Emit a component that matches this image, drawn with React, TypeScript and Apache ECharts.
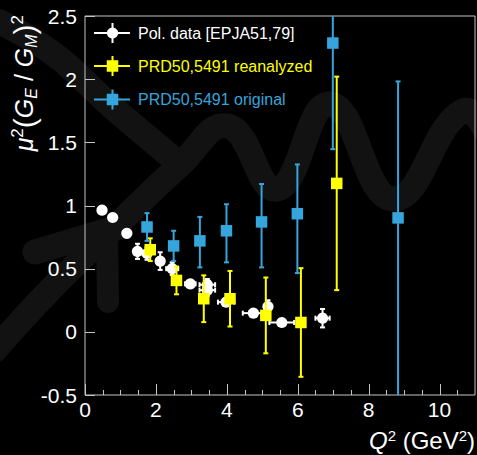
import React, { useEffect, useRef } from "react";
import * as echarts from "echarts";

// ---------- data ----------
const polQ2 = [0.48, 0.78, 1.18, 1.48, 1.75, 2.12, 2.46, 2.97, 3.45, 3.45, 3.98, 4.75, 5.16, 5.55, 6.7];
const polRatio = [0.963, 0.905, 0.78, 0.637, 0.62, 0.56, 0.5, 0.38, 0.373, 0.33, 0.235, 0.148, 0.2, 0.074, 0.108];
const polQ2Err = [0, 0, 0, 0.04, 0.05, 0.08, 0.17, 0.15, 0.22, 0.22, 0.23, 0.3, 0.05, 0.35, 0.2];
const polRatioErr = [0.01, 0.01, 0.01, 0.06, 0.05, 0.07, 0.05, 0.03, 0.045, 0.045, 0.03, 0.015, 0.05, 0.015, 0.073];

const reanQ2 = [1.84, 2.58, 3.35, 4.09, 5.1, 6.09, 7.1];
const reanRatio = [0.65, 0.407, 0.262, 0.262, 0.13, 0.074, 1.175];
const reanErr = [0.09, 0.11, 0.185, 0.22, 0.3, 0.43, 0.845];

const origQ2 = [1.75, 2.5, 3.24, 3.99, 4.98, 5.99, 6.99, 8.83];
const origRatio = [0.83, 0.68, 0.72, 0.8, 0.87, 0.935, 2.286, 0.902];
const origErrLow = [0.11, 0.12, 0.21, 0.25, 0.36, 0.47, 0.84, 1.6];
const origErrHigh = [0.11, 0.12, 0.19, 0.21, 0.3, 0.39, 0.84, 1.08];

const seriesNames = ["Pol. data [EPJA51,79]", "PRD50,5491 reanalyzed", "PRD50,5491 original"];
const seriesColors = ["#ffffff", "#ffff00", "#36a5dc"];
const seriesSymbols = ["circle", "square", "square"];

// tick positions (axis values)
const xMajorTicks = [0, 2, 4, 6, 8, 10];
const xMinorTicks = [0.5, 1, 1.5, 2.5, 3, 3.5, 4.5, 5, 5.5, 6.5, 7, 7.5, 8.5, 9, 9.5, 10.5];
const yMajorTicks = [-0.5, 0, 0.5, 1, 1.5, 2, 2.5];

const X_MIN = 0;
const X_MAX = 11;
const Y_MIN = -0.5;
const Y_MAX = 2.5;

// ---------- style ----------
const FONT = '"Liberation Sans", Arial, Helvetica, sans-serif';
const AXIS_GRAY = "#c4c4c4";
const WM = "#121212";

type Row = [number, number, number, number, number, number];

const polData: Row[] = polQ2.map((x, i) => [
  x, polRatio[i], x - polQ2Err[i], x + polQ2Err[i], polRatio[i] - polRatioErr[i], polRatio[i] + polRatioErr[i],
]);
const reanData: Row[] = reanQ2.map((x, i) => [
  x, reanRatio[i], x, x, reanRatio[i] - reanErr[i], reanRatio[i] + reanErr[i],
]);
const origData: Row[] = origQ2.map((x, i) => [
  x, origRatio[i], x, x, origRatio[i] - origErrLow[i], origRatio[i] + origErrHigh[i],
]);

function errSeries(idx: number, data: Row[], z: number) {
  const color = seriesColors[idx];
  const symbol = seriesSymbols[idx];
  return {
    type: "custom",
    name: seriesNames[idx],
    clip: true,
    z,
    data,
    encode: { x: 0, y: 1 },
    renderItem: (_params: any, api: any) => {
      const x = api.value(0);
      const y = api.value(1);
      const xlo = api.value(2);
      const xhi = api.value(3);
      const ylo = api.value(4);
      const yhi = api.value(5);
      const c = api.coord([x, y]);
      const lw = 2;
      const cap = 2.5;
      const st = { stroke: color, lineWidth: lw };
      const children: any[] = [];
      if (yhi > ylo) {
        const pLo = api.coord([x, ylo]);
        const pHi = api.coord([x, yhi]);
        children.push({ type: "line", shape: { x1: c[0], y1: pLo[1], x2: c[0], y2: pHi[1] }, style: st });
        children.push({ type: "line", shape: { x1: c[0] - cap, y1: pLo[1], x2: c[0] + cap, y2: pLo[1] }, style: st });
        children.push({ type: "line", shape: { x1: c[0] - cap, y1: pHi[1], x2: c[0] + cap, y2: pHi[1] }, style: st });
      }
      if (xhi > xlo) {
        const pLo = api.coord([xlo, y]);
        const pHi = api.coord([xhi, y]);
        children.push({ type: "line", shape: { x1: pLo[0], y1: c[1], x2: pHi[0], y2: c[1] }, style: st });
        children.push({ type: "line", shape: { x1: pLo[0], y1: c[1] - cap, x2: pLo[0], y2: c[1] + cap }, style: st });
        children.push({ type: "line", shape: { x1: pHi[0], y1: c[1] - cap, x2: pHi[0], y2: c[1] + cap }, style: st });
      }
      if (symbol === "circle") {
        children.push({ type: "circle", shape: { cx: c[0], cy: c[1], r: 5.6 }, style: { fill: color } });
      } else {
        const s = 11.5;
        children.push({ type: "rect", shape: { x: c[0] - s / 2, y: c[1] - s / 2, width: s, height: s }, style: { fill: color } });
      }
      return { type: "group", children };
    },
  };
}

function legendGraphics() {
  const rows = [33, 66, 99.5];
  const out: any[] = [];
  rows.forEach((y, i) => {
    const color = seriesColors[i];
    const st = { stroke: color, lineWidth: 2 };
    out.push({ type: "line", z: 10, shape: { x1: 94, y1: y, x2: 130, y2: y }, style: st });
    out.push({ type: "line", z: 10, shape: { x1: 112.5, y1: y - 10, x2: 112.5, y2: y + 10 }, style: st });
    if (seriesSymbols[i] === "circle") {
      out.push({ type: "circle", z: 11, shape: { cx: 112.5, cy: y, r: 5.6 }, style: { fill: color } });
    } else {
      out.push({ type: "rect", z: 11, shape: { x: 112.5 - 5.75, y: y - 5.75, width: 11.5, height: 11.5 }, style: { fill: color } });
    }
    out.push({
      type: "text", z: 11, x: 138, y,
      style: { text: seriesNames[i], fill: color, fontSize: 16, fontFamily: FONT, align: "left", verticalAlign: "middle" },
    });
  });
  return out;
}

function watermark() {
  const base = { type: "polyline", z: -100, silent: true };
  const st = { stroke: WM, lineWidth: 25, lineCap: "round", lineJoin: "round", fill: "none" };
  return [
    { ...base, shape: { points: [[0, 22], [55, 55], [110, 105], [175, 160]], smooth: 0.4 }, style: st },
    {
      ...base,
      shape: {
        points: [[-5, 350], [50, 290], [110, 232], [180, 165], [228, 126], [277, 189], [330, 104], [393, 199], [463, 111], [495, 150]],
        smooth: 0.45,
      },
      style: st,
    },
    { ...base, shape: { points: [[35, 252], [115, 228]], smooth: 0 }, style: st },
    { ...base, shape: { points: [[107, 236], [108, 302]], smooth: 0 }, style: { ...st, lineWidth: 22 } },
  ];
}

const yTitle = {
  type: "text",
  x: 24,
  y: 15,
  rotation: Math.PI / 2,
  z: 12,
  style: {
    text: "{i|μ}{s|2}{p|(}{i|G}{b|E}{n| / }{i|G}{b|M}{p|)}{s|2}",
    fill: "#fff",
    fontFamily: FONT,
    fontSize: 25,
    align: "right",
    verticalAlign: "middle",
    rich: {
      i: { fontSize: 25, fontStyle: "italic", fill: "#fff", fontFamily: FONT },
      n: { fontSize: 25, fill: "#fff", fontFamily: FONT },
      p: { fontSize: 30, fill: "#fff", fontFamily: FONT },
      s: { fontSize: 17, fill: "#fff", fontFamily: FONT, verticalAlign: "top" },
      b: { fontSize: 16, fontStyle: "italic", fill: "#fff", fontFamily: FONT, verticalAlign: "bottom" },
    },
  },
};

const xTitle = {
  type: "text",
  x: 475,
  y: 440,
  z: 12,
  style: {
    text: "{i|Q}{s|2}{n| (GeV}{s|2}{n|)}",
    fill: "#fff",
    fontFamily: FONT,
    fontSize: 24,
    align: "right",
    verticalAlign: "middle",
    rich: {
      i: { fontSize: 24, fontStyle: "italic", fill: "#fff", fontFamily: FONT },
      n: { fontSize: 24, fill: "#fff", fontFamily: FONT },
      s: { fontSize: 15, fill: "#fff", fontFamily: FONT, verticalAlign: "top" },
    },
  },
};

export default function App() {
  const ref = useRef<HTMLDivElement>(null);
  useEffect(() => {
    document.body.style.margin = "0";
    document.body.style.background = "#000";
    const chart = echarts.init(ref.current!, null, { renderer: "svg" });
    const baseGraphic = [...watermark(), ...legendGraphics(), yTitle, xTitle];
    chart.setOption({
      animation: false,
      backgroundColor: "#000",
      textStyle: { fontFamily: FONT },
      grid: {
        left: 85,
        top: 16,
        right: 2,
        bottom: 60,
        show: true,
        borderColor: AXIS_GRAY,
        borderWidth: 1,
        backgroundColor: "transparent",
        z: 0,
      },
      xAxis: {
        type: "value",
        min: X_MIN,
        max: X_MAX,
        interval: 2,
        position: "bottom",
        axisLine: { show: false, onZero: false },
        axisTick: { show: false },
        axisLabel: { color: "#fff", fontSize: 21, fontFamily: FONT, margin: 4, showMaxLabel: false },
        splitLine: { show: false },
      },
      yAxis: {
        type: "value",
        min: Y_MIN,
        max: Y_MAX,
        interval: 0.5,
        axisLine: { show: false, onZero: false },
        axisTick: { show: false },
        axisLabel: { color: "#fff", fontSize: 21, fontFamily: FONT, margin: 8 },
        splitLine: { show: false },
      },
      graphic: baseGraphic,
      series: [errSeries(0, polData, 3), errSeries(1, reanData, 4), errSeries(2, origData, 5)],
    });

    // axis ticks placed through the chart's own scales
    const tickStyle = { stroke: AXIS_GRAY, lineWidth: 1 };
    const ticks: any[] = [];
    const addX = (v: number, len: number) => {
      const p = chart.convertToPixel({ gridIndex: 0 }, [v, Y_MIN]) as number[];
      const x = Math.round(p[0]) + 0.5;
      ticks.push({ type: "line", z: 20, silent: true, shape: { x1: x, y1: p[1], x2: x, y2: p[1] - len }, style: tickStyle });
    };
    xMajorTicks.forEach((v) => addX(v, 11));
    xMinorTicks.forEach((v) => addX(v, 5));
    yMajorTicks.forEach((v) => {
      const p = chart.convertToPixel({ gridIndex: 0 }, [X_MIN, v]) as number[];
      const y = Math.round(p[1]) + 0.5;
      ticks.push({ type: "line", z: 20, silent: true, shape: { x1: p[0], y1: y, x2: p[0] + 10, y2: y }, style: tickStyle });
    });
    chart.setOption({ graphic: [...baseGraphic, ...ticks] });

    return () => chart.dispose();
  }, []);
  return <div ref={ref} style={{ position: "absolute", left: 0, top: 0, width: 477, height: 455 }} />;
}
